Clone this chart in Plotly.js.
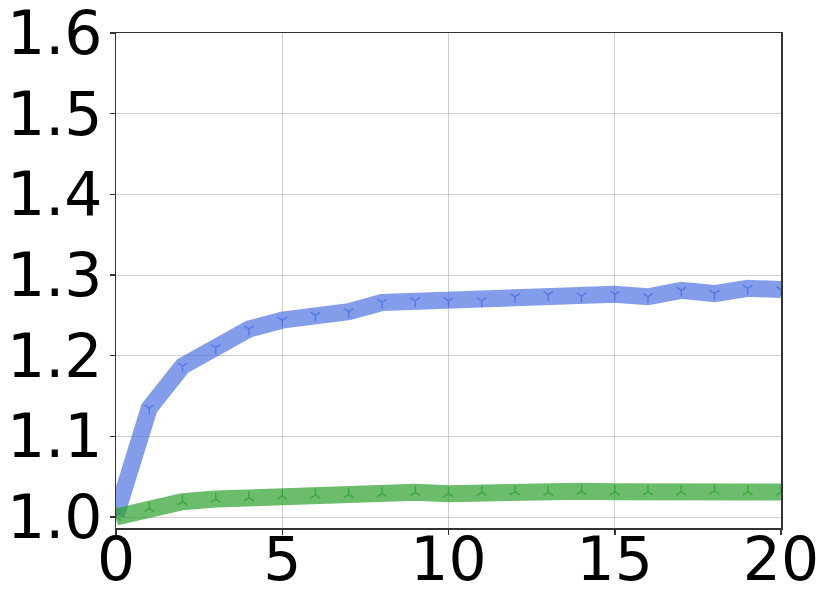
<!DOCTYPE html>
<html>
<head>
<meta charset="utf-8">
<script src="https://cdn.plot.ly/plotly-3.0.1.min.js"></script>
<style>html,body{margin:0;padding:0;background:#fff;}#chart{width:830px;height:608px;}</style>
</head>
<body>
<div id="chart"></div>
<script>
const steps = [0,1,2,3,4,5,6,7,8,9,10,11,12,13,14,15,16,17,18,19,20];
const blueValues = [1.002,1.135,1.187,1.210,1.233,1.244,1.250,1.2545,1.266,1.268,1.268,1.268,1.273,1.2756,1.274,1.276,1.273,1.281,1.277,1.2835,1.282];
const greenValues = [1.0,1.0107,1.019,1.0223,1.024,1.026,1.0273,1.028,1.029,1.0306,1.029,1.0306,1.0314,1.0306,1.032,1.0314,1.0314,1.0314,1.0326,1.0314,1.031];
const xTicks = [0,5,10,15,20];
const yTicks = [1.0,1.1,1.2,1.3,1.4,1.5,1.6];

const traces = [
  {x: steps, y: blueValues, mode: 'lines', line: {color: 'rgba(65,105,225,0.65)', width: 17}, hoverinfo: 'skip', showlegend: false},
  {x: steps, y: blueValues, mode: 'markers', marker: {symbol: 'y-down', size: 8, color: 'rgba(65,105,225,0.75)', line: {color: 'rgba(65,105,225,0.75)', width: 1.3}}, showlegend: false},
  {x: steps, y: greenValues, mode: 'lines', line: {color: 'rgba(44,160,44,0.7)', width: 17}, hoverinfo: 'skip', showlegend: false},
  {x: steps, y: greenValues, mode: 'markers', marker: {symbol: 'y-up', size: 8, color: 'rgba(44,160,44,0.8)', line: {color: 'rgba(44,160,44,0.8)', width: 1.3}}, showlegend: false}
];

const axisCommon = {
  showgrid: true, gridcolor: 'rgba(176,176,176,0.6)', gridwidth: 1,
  zeroline: false, showline: true, linecolor: '#333', linewidth: 1.5, mirror: true,
  ticks: 'outside', ticklen: 5, tickwidth: 1.5, tickcolor: '#333',
  ticklabeloverflow: 'allow',
  tickfont: {family: 'DejaVu Sans', size: 60, color: '#000'}
};

const layout = {
  width: 830, height: 608,
  margin: {l: 116, r: 49, t: 33, b: 80},
  paper_bgcolor: '#fff', plot_bgcolor: '#fff',
  xaxis: Object.assign({}, axisCommon, {range: [0, 20], tickvals: xTicks, ticktext: xTicks.map(String), ticklabelstandoff: -27}),
  yaxis: Object.assign({}, axisCommon, {range: [0.9864, 1.6], tickvals: yTicks, ticktext: yTicks.map(v => v.toFixed(1)), ticklabelstandoff: -5}),
  showlegend: false
};

Plotly.newPlot('chart', traces, layout, {staticPlot: true, displayModeBar: false});
</script>
</body>
</html>
